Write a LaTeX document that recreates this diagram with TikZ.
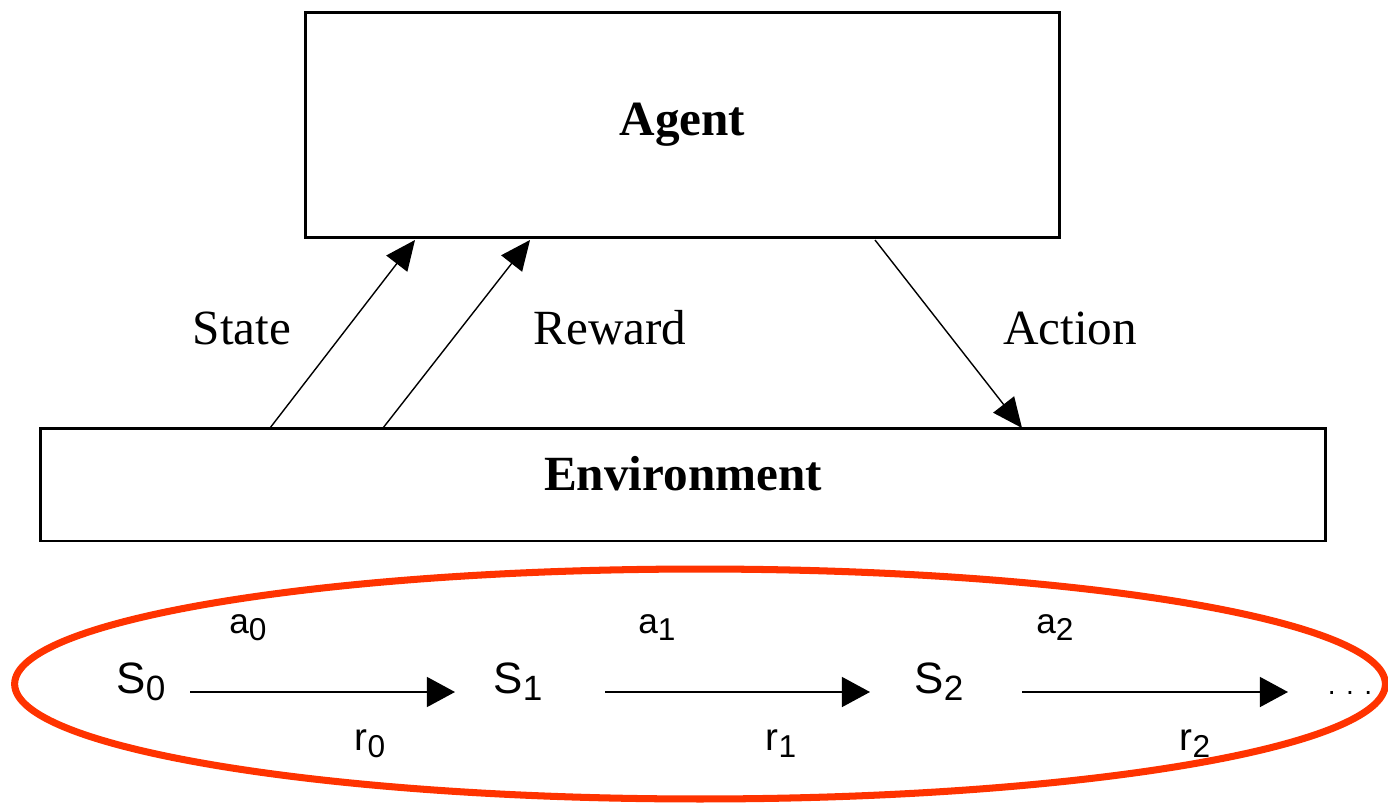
\documentclass[tikz,border=0pt]{standalone}
\usepackage{fontspec}
\setmainfont{Liberation Serif}
\setsansfont{Liberation Sans}
\usetikzlibrary{arrows.meta}
\definecolor{loopred}{RGB}{255,51,0}
\newcommand{\seqsym}[4]{\fontsize{#1}{#1}\selectfont #3\raisebox{-4pt}{\fontsize{#2}{#2}\selectfont #4}}
\begin{document}
\begin{tikzpicture}[
        x=0.02cm, y=-0.02cm,
        box/.style={draw, line width=1.7pt, inner sep=0pt, font=\fontsize{28}{30}\selectfont\bfseries},
        flow/.style={-{Triangle[length=17pt,width=15pt]}, line width=0.8pt},
        chain/.style={-{Triangle[length=16pt,width=17pt]}, line width=1.2pt},
        lbl/.style={font=\fontsize{28}{30}\selectfont},
        seq/.style={font=\sffamily, inner sep=0pt, anchor=base}
    ]
    \useasboundingbox (0,0) rectangle (1388,804);
    % agent and environment
    \node[box, minimum width=15.1cm, minimum height=4.52cm] (agent) at (682.5,125) {Agent};
    \node[box, minimum width=25.72cm, minimum height=2.26cm, text depth=12.5pt] (env) at (683,484.5) {Environment};
    \coordinate (stfoot) at (270,428);
    \coordinate (sttip) at (415,240);
    \coordinate (rwfoot) at (383,428);
    \coordinate (rwtip) at (530,240);
    \coordinate (acfoot) at (875,240);
    \coordinate (actip) at (1022,428);
    \draw[flow] (stfoot) -- (sttip);
    \draw[flow] (rwfoot) -- (rwtip);
    \draw[flow] (acfoot) -- (actip);
    \node[lbl] (state) at (242,328) {State};
    \node[lbl] (reward) at (610,328) {Reward};
    \node[lbl] (action) at (1070,328) {Action};
    % state sequence
    \draw[loopred, line width=4pt] (700,684) ellipse [x radius=13.71cm, y radius=2.3cm];
    \foreach \i/\sx/\ax/\rx/\ps/\pe in {0/141/248/370/190/455, 1/518/657/781/605/870, 2/939/1055/1195/1022/1288} {
        \node[seq] (s\i) at (\sx,693) {\seqsym{25}{20}{S}{\i}};
        \node[seq] (a\i) at (\ax,633) {\seqsym{20}{18}{a}{\i}};
        \node[seq] (r\i) at (\rx,750) {\seqsym{22}{18}{r}{\i}};
        \coordinate (p\i) at (\ps,692);
        \coordinate (q\i) at (\pe,692);
        \draw[chain] (p\i) -- (q\i);
    }
    \node[seq] (more) at (1350,694) {\fontsize{16}{16}\selectfont . . .};
\end{tikzpicture}
\end{document}
